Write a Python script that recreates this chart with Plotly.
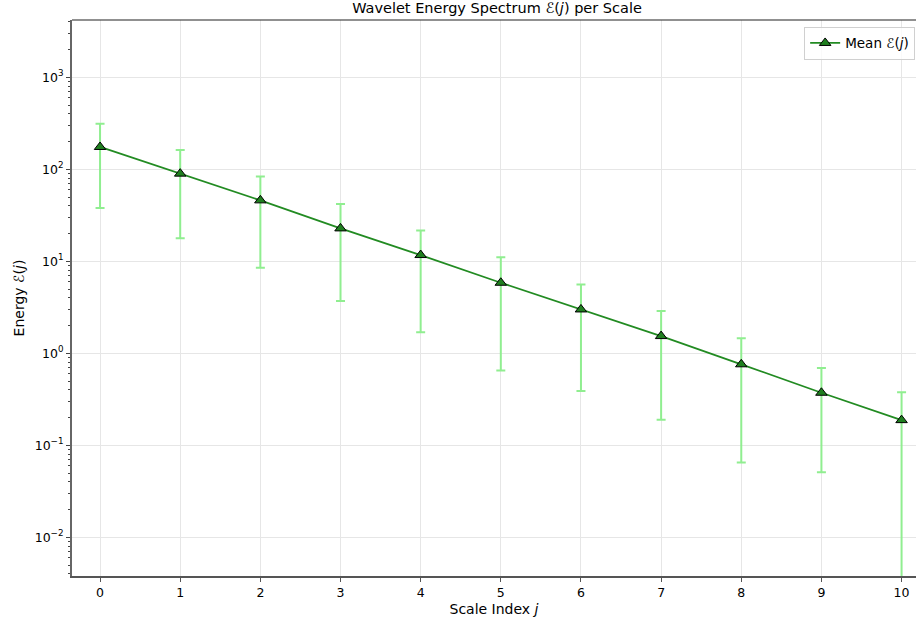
import plotly.graph_objects as go

scale_j = [0, 1, 2, 3, 4, 5, 6, 7, 8, 9, 10]
mean_energy = [175, 89.8, 46, 22.8, 11.7, 5.85, 3.0, 1.54, 0.76, 0.373, 0.188]
std_energy = [137, 72, 37.5, 19.1, 10.0, 5.2, 2.61, 1.35, 0.695, 0.322, 0.19]

y_tickvals = [0.01, 0.1, 1, 10, 100, 1000]
y_ticktext = ["10<sup>−2</sup>", "10<sup>−1</sup>", "10<sup>0</sup>",
              "10<sup>1</sup>", "10<sup>2</sup>", "10<sup>3</sup>"]
y_minorvals = [m * 10 ** e for e in range(-3, 4) for m in range(2, 10)]

FONT = "DejaVu Sans"

fig = go.Figure()
fig.add_trace(go.Scatter(
    x=scale_j, y=mean_energy, mode="lines+markers",
    name="Mean ℰ(<i>j</i>)",
    line=dict(color="#228B22", width=1.8),
    marker=dict(symbol="triangle-up", size=10, color="#1f7f1f",
                line=dict(color="black", width=1)),
    error_y=dict(type="data", symmetric=False, array=std_energy,
                 arrayminus=std_energy, color="#90EE90", thickness=2, width=4.5),
))

fig.add_shape(type="line", xref="paper", yref="paper", x0=0, x1=1, y0=1, y1=1,
              line=dict(color="#222222", width=1.2))

fig.update_layout(
    width=916, height=626,
    margin=dict(l=72, r=0, t=20, b=50),
    paper_bgcolor="white", plot_bgcolor="white",
    font=dict(family=FONT, size=12.5, color="black"),
    title=dict(text="Wavelet Energy Spectrum ℰ(<i>j</i>) per Scale",
               x=497 / 916, xanchor="center", xref="container",
               y=1 - 8 / 626, yanchor="middle", yref="container",
               font=dict(family=FONT, size=14.5, color="black")),
    showlegend=True,
    legend=dict(x=0.999, xanchor="right", y=0.988, yanchor="top",
                bgcolor="rgba(255,255,255,0.8)", bordercolor="#d0d0d0",
                borderwidth=1, font=dict(family=FONT, size=13.5)),
    xaxis=dict(range=[-0.35, 10.18], tickvals=scale_j,
               showgrid=True, gridcolor="#e6e6e6", gridwidth=1,
               showline=True, linecolor="#555555", linewidth=1.5,
               ticks="outside", ticklen=4, tickcolor="#555555",
               zeroline=False,
               title=dict(text="Scale Index <i>j</i>", standoff=5,
                          font=dict(family=FONT, size=14))),
    yaxis=dict(type="log", range=[-2.42, 3.623],
               tickvals=y_tickvals, ticktext=y_ticktext,
               showgrid=True, gridcolor="#e6e6e6", gridwidth=1,
               showline=True, linecolor="#666666", linewidth=2,
               ticks="outside", ticklen=4, tickcolor="#444444",
               zeroline=False,
               minor=dict(tickvals=y_minorvals, ticks="outside", ticklen=2,
                          tickcolor="#444444", showgrid=False),
               title=dict(text="Energy ℰ(<i>j</i>)", standoff=7,
                          font=dict(family=FONT, size=14))),
)

fig.write_html("out.html")
